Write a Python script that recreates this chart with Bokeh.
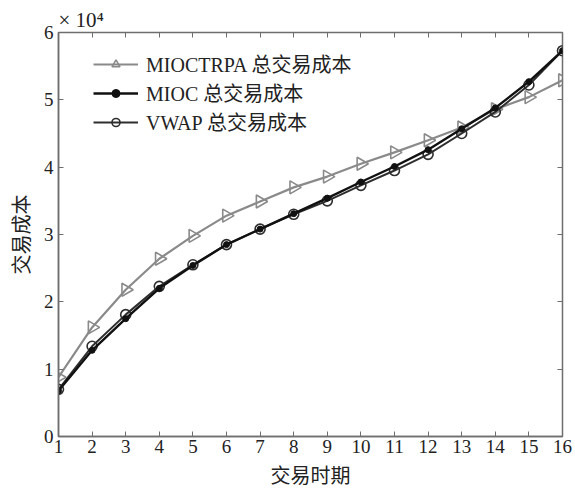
import math
from bokeh.plotting import figure
from bokeh.models import Range1d, LinearAxis, FixedTicker, Legend, LegendItem
from bokeh.embed import file_html
from bokeh.resources import INLINE

# trading periods and total trading cost (units of 10^4)
periods = list(range(1, 17))
cost_miocTRPA = [0.88, 1.62, 2.18, 2.64, 2.98, 3.28, 3.49, 3.70, 3.86, 4.05, 4.22, 4.40, 4.59, 4.86, 5.04, 5.29]
cost_mioc = [0.68, 1.28, 1.75, 2.20, 2.54, 2.85, 3.08, 3.31, 3.54, 3.78, 4.01, 4.26, 4.57, 4.88, 5.27, 5.73]
cost_vwap = [0.70, 1.34, 1.81, 2.23, 2.55, 2.85, 3.08, 3.30, 3.50, 3.73, 3.95, 4.19, 4.50, 4.82, 5.22, 5.73]

x_ticks = list(range(1, 17))
y_ticks = [0, 1, 2, 3, 4, 5, 6]
series_names = ["MIOCTRPA 总交易成本", "MIOC 总交易成本", "VWAP 总交易成本"]

FONT = "'Liberation Serif', 'Noto Sans CJK SC', serif"
AXIS_GRAY = "#6e6e6e"
TEXT = "#222222"

p = figure(width=575, height=489, output_backend="svg", toolbar_location=None,
           x_range=Range1d(1, 16), y_range=Range1d(0, 6),
           min_border_left=58, min_border_right=13, min_border_top=32, min_border_bottom=53,
           background_fill_color="white", border_fill_color="white")
p.xgrid.visible = False
p.ygrid.visible = False
p.outline_line_color = AXIS_GRAY
p.outline_line_width = 1.5

# exponent of the y values, shown above the top-left corner
p.title.text = "× 10⁴"
p.title.text_font = FONT
p.title.text_font_size = "21px"
p.title.text_font_style = "normal"
p.title.text_color = TEXT
p.title.align = "left"
p.title.offset = 0
p.title.standoff = 1


def style_axis(ax, ticks, show_labels=True):
    ax.ticker = FixedTicker(ticks=ticks)
    ax.minor_tick_line_color = None
    ax.major_tick_in = 5
    ax.major_tick_out = 0
    ax.major_tick_line_color = AXIS_GRAY
    ax.axis_line_color = AXIS_GRAY
    ax.axis_line_width = 1.5
    ax.major_label_text_font = FONT
    ax.major_label_text_font_size = "19px"
    ax.major_label_text_color = TEXT
    ax.axis_label_text_font = FONT
    ax.axis_label_text_font_size = "20px"
    ax.axis_label_text_font_style = "normal"
    ax.axis_label_text_color = TEXT
    if not show_labels:
        ax.major_label_overrides = {t: "" for t in ticks}
        ax.major_label_standoff = 0
        ax.axis_line_color = None


style_axis(p.xaxis[0], x_ticks)
style_axis(p.yaxis[0], y_ticks)
p.xaxis[0].axis_label = "交易时期"
p.yaxis[0].axis_label = "交易成本"
p.xaxis[0].major_label_standoff = 3
p.xaxis[0].axis_label_standoff = 9
p.yaxis[0].major_label_standoff = 5
p.yaxis[0].axis_label_standoff = 8

top_ax = LinearAxis()
right_ax = LinearAxis()
style_axis(top_ax, x_ticks, show_labels=False)
style_axis(right_ax, y_ticks, show_labels=False)
p.add_layout(top_ax, "above")
p.add_layout(right_ax, "right")

# MIOCTRPA: gray line with open right-pointing triangles
l1 = p.line(periods, cost_miocTRPA, line_color="#8a8a8a", line_width=2.2)
m1 = p.scatter(periods, cost_miocTRPA, marker="triangle", size=13, angle=-math.pi / 2,
               line_color="#8a8a8a", line_width=1.6, fill_color="white", fill_alpha=0.0)

# VWAP: dark line with open circles
l3 = p.line(periods, cost_vwap, line_color="#2e2e2e", line_width=2.0)
m3 = p.scatter(periods, cost_vwap, marker="circle", size=10,
               line_color="#2e2e2e", line_width=1.6, fill_color="white", fill_alpha=0.0)

# MIOC: black line with filled dots
l2 = p.line(periods, cost_mioc, line_color="#111111", line_width=2.4)
m2 = p.scatter(periods, cost_mioc, marker="circle", size=6,
               line_color="#111111", fill_color="#111111")

legend = Legend(items=[
    LegendItem(label=series_names[0], renderers=[l1, m1]),
    LegendItem(label=series_names[1], renderers=[l2, m2]),
    LegendItem(label=series_names[2], renderers=[l3, m3]),
], location=(35, 300))
legend.border_line_color = None
legend.background_fill_alpha = 0.0
legend.label_text_font = FONT
legend.label_text_font_size = "20px"
legend.label_text_color = TEXT
legend.glyph_width = 45
legend.glyph_height = 20
legend.label_height = 20
legend.label_standoff = 8
legend.spacing = 0
legend.padding = 5
legend.margin = 0
p.add_layout(legend)

open("out.html", "w").write(file_html(p, INLINE))
